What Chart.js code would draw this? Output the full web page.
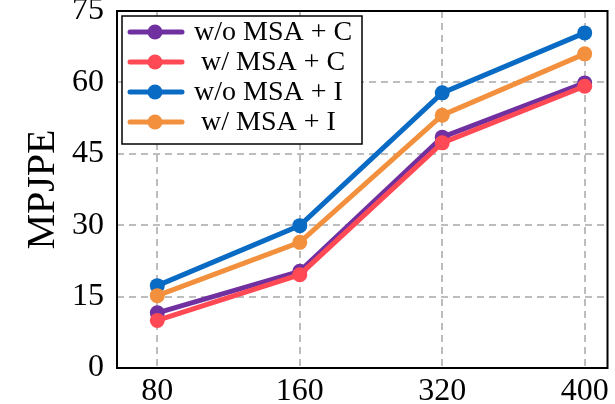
<!DOCTYPE html>
<html>
<head>
<meta charset="utf-8">
<script src="https://cdn.jsdelivr.net/npm/chart.js@4"></script>
<style>
  html, body { margin: 0; padding: 0; background: #fff; }
  #wrap { width: 615px; height: 404px; }
</style>
</head>
<body>
<div id="wrap"><canvas id="lineChart" width="615" height="404"></canvas></div>
<script>
    // sequence lengths on the x axis
    var frames = ['80', '160', '320', '400'];
    var yTicks = [0, 15, 30, 45, 60, 75];

    // MPJPE per setting
    var woMsaC = [11.6, 20.3, 48.5, 59.9];
    var wMsaC = [10.0, 19.6, 47.3, 59.2];
    var woMsaI = [17.3, 29.9, 57.8, 70.4];
    var wMsaI = [15.2, 26.4, 53.1, 66.0];

    var serif = '"Liberation Serif", "Times New Roman", serif';

    function series(label, values, color, order) {
      return {
        label: label,
        data: values.map(function (v, i) { return { x: i, y: v }; }),
        borderColor: color,
        backgroundColor: color,
        pointBackgroundColor: color,
        pointBorderColor: color,
        borderWidth: 5,
        pointRadius: 7.5,
        pointBorderWidth: 0,
        tension: 0,
        order: order
      };
    }

    var lineData = {
      datasets: [
        series('w/o MSA + C', woMsaC, '#7030a0', 4),
        series(' w/ MSA + C', wMsaC, '#ff4a55', 3),
        series('w/o MSA + I', woMsaI, '#0a6bc4', 2),
        series(' w/ MSA + I', wMsaI, '#f2903d', 1)
      ]
    };

    // legend box drawn inside the plot, plus the frame around it
    var frameLegend = {
      id: 'frameLegend',
      afterDatasetsDraw: function (chart) {
        var ctx = chart.ctx;
        var a = chart.chartArea;
        ctx.save();
        ctx.strokeStyle = '#000';
        ctx.lineWidth = 2;
        ctx.strokeRect(a.left, a.top, a.right - a.left, a.bottom - a.top);

        var bx = a.left + 5, by = a.top + 5, bw = 240, bh = 128;
        ctx.fillStyle = '#fff';
        ctx.fillRect(bx, by, bw, bh);
        ctx.lineWidth = 1.5;
        ctx.strokeRect(bx, by, bw, bh);

        ctx.font = '28px ' + serif;
        ctx.textBaseline = 'middle';
        ctx.textAlign = 'left';
        chart.data.datasets.forEach(function (ds, i) {
          var y = by + 16 + i * 30;
          ctx.strokeStyle = ds.borderColor;
          ctx.lineWidth = 5;
          ctx.lineCap = 'round';
          ctx.beginPath();
          ctx.moveTo(bx + 8, y);
          ctx.lineTo(bx + 60, y);
          ctx.stroke();
          ctx.fillStyle = ds.borderColor;
          ctx.beginPath();
          ctx.arc(bx + 33, y, 7.5, 0, Math.PI * 2);
          ctx.fill();
          ctx.fillStyle = '#000';
          ctx.fillText(ds.label, bx + 72, y + 1);
        });
        ctx.restore();
      }
    };

    var gridStyle = {
      color: '#bdbdbd',
      lineWidth: 2,
      drawTicks: false
    };
    var gridDash = { display: false, dash: [7, 5] };

    var lineOptions = {
      responsive: false,
      animation: false,
      layout: { padding: { top: 11, right: 4, left: 0, bottom: 0 } },
      plugins: {
        legend: { display: false },
        tooltip: { enabled: false }
      },
      scales: {
        x: {
          type: 'linear',
          min: -0.283,
          max: 3.16,
          afterBuildTicks: function (scale) {
            scale.ticks = frames.map(function (f, i) { return { value: i }; });
          },
          afterFit: function (scale) {
            scale.height = 36;
            scale.paddingLeft = 0;
            scale.paddingRight = 0;
          },
          grid: gridStyle,
          border: gridDash,
          ticks: {
            padding: 4,
            color: '#000',
            font: { family: serif, size: 32 },
            callback: function (v) { return frames[v]; }
          }
        },
        y: {
          min: 0,
          max: 75,
          afterBuildTicks: function (scale) {
            scale.ticks = yTicks.map(function (v) { return { value: v }; });
          },
          afterFit: function (scale) {
            scale.width = 117;
            scale.paddingTop = 0;
            scale.paddingBottom = 0;
          },
          grid: gridStyle,
          border: gridDash,
          ticks: {
            padding: 13,
            color: '#000',
            font: { family: serif, size: 32 }
          },
          title: {
            display: true,
            text: 'MPJPE',
            color: '#000',
            font: { family: serif, size: 40 },
            padding: { top: 19, bottom: 0 }
          }
        }
      }
    };

    var lineChart = new Chart(document.getElementById('lineChart'), {
      type: 'line',
      data: lineData,
      options: lineOptions,
      plugins: [frameLegend]
    });
</script>
</body>
</html>
